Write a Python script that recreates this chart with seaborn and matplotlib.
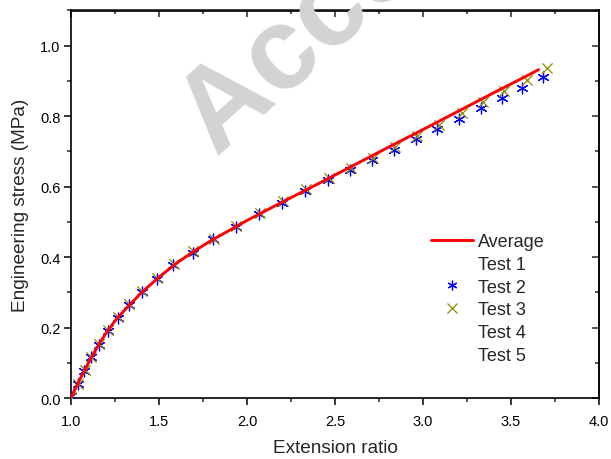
import matplotlib
matplotlib.use("Agg")
import matplotlib.pyplot as plt
from matplotlib.lines import Line2D
from matplotlib.ticker import MultipleLocator, FormatStrFormatter
import seaborn as sns
import pandas as pd

# ---- data ----
avg_x = [1.0, 1.04, 1.08, 1.12, 1.16, 1.2, 1.25, 1.3, 1.4, 1.5, 1.6, 1.7, 1.8, 1.9,
         2.0, 2.2, 2.4, 2.6, 2.8, 3.0, 3.2, 3.4, 3.6, 3.656]
avg_y = [0.0, 0.043, 0.081, 0.119, 0.153, 0.185, 0.219, 0.247, 0.299, 0.343, 0.383,
         0.417, 0.448, 0.476, 0.504, 0.556, 0.607, 0.659, 0.711, 0.762, 0.814, 0.866,
         0.917, 0.932]

test2_x = [1.0, 1.038, 1.076, 1.114, 1.159, 1.208, 1.265, 1.331, 1.405, 1.487, 1.581,
           1.692, 1.808, 1.937, 2.068, 2.199, 2.330, 2.458, 2.585, 2.712, 2.837, 2.960,
           3.081, 3.205, 3.328, 3.449, 3.564, 3.684]
test2_y = [0.005, 0.040, 0.077, 0.115, 0.151, 0.191, 0.227, 0.263, 0.301, 0.339, 0.377,
           0.413, 0.450, 0.485, 0.521, 0.554, 0.587, 0.618, 0.646, 0.677, 0.705, 0.736,
           0.764, 0.792, 0.822, 0.851, 0.880, 0.911]

test3_x = [1.0, 1.04, 1.078, 1.115, 1.16, 1.209, 1.266, 1.332, 1.406, 1.489, 1.583,
           1.694, 1.811, 1.94, 2.071, 2.203, 2.335, 2.464, 2.591, 2.718, 2.841, 2.968,
           3.093, 3.220, 3.343, 3.462, 3.589, 3.706]
test3_y = [0.004, 0.041, 0.079, 0.117, 0.153, 0.193, 0.229, 0.266, 0.303, 0.341, 0.379,
           0.416, 0.452, 0.488, 0.524, 0.558, 0.592, 0.624, 0.653, 0.682, 0.713, 0.745,
           0.776, 0.809, 0.839, 0.871, 0.904, 0.937]

legend_labels = ["Average", "Test 1", "Test 2", "Test 3", "Test 4", "Test 5"]
x_label = "Extension ratio"
y_label = "Engineering stress (MPa)"
watermark = "Accepted Manuscript"

# ---- style ----
sns.set_style("ticks")
plt.rcParams["font.family"] = ["Liberation Sans", "DejaVu Sans"]

RED = "#ff0000"
BLUE = "#0000ff"
OLIVE = "#8c8c00"
ASTER = (6, 2, 0)

fig = plt.figure(figsize=(6.11, 4.60), dpi=100)
ax = fig.add_axes([0.1162, 0.1326, 0.8642, 0.8424])

df_avg = pd.DataFrame({"x": avg_x, "y": avg_y})
df2 = pd.DataFrame({"x": test2_x, "y": test2_y})
df3 = pd.DataFrame({"x": test3_x, "y": test3_y})

sns.scatterplot(data=df2, x="x", y="y", ax=ax, marker=ASTER, s=60,
                color=BLUE, edgecolor=BLUE, linewidth=0.9, zorder=3, legend=False)
sns.scatterplot(data=df3, x="x", y="y", ax=ax, marker="x", s=55,
                color=OLIVE, linewidth=0.9, zorder=3, legend=False)
sns.lineplot(data=df_avg, x="x", y="y", ax=ax, color=RED, linewidth=2.1,
             zorder=4, legend=False, sort=False)

ax.set_xlim(1.0, 4.0)
ax.set_ylim(0.0, 1.1)
ax.xaxis.set_major_locator(MultipleLocator(0.5))
ax.xaxis.set_minor_locator(MultipleLocator(0.25))
ax.yaxis.set_major_locator(MultipleLocator(0.2))
ax.yaxis.set_minor_locator(MultipleLocator(0.1))
ax.xaxis.set_major_formatter(FormatStrFormatter("%.1f"))
ax.yaxis.set_major_formatter(FormatStrFormatter("%.1f"))

for sp in ax.spines.values():
    sp.set_visible(True)
    sp.set_linewidth(1.2)
    sp.set_color("black")

ax.tick_params(which="major", direction="out", length=5, width=1.1,
               labelsize=10.5, pad=2.5, colors="black")
ax.tick_params(which="minor", direction="out", length=3, width=1.1)
ax.tick_params(axis="x", which="major", pad=6.5)

sx = ax.secondary_xaxis("top")
sx.xaxis.set_major_locator(MultipleLocator(0.5))
sx.xaxis.set_minor_locator(MultipleLocator(0.25))
sx.tick_params(which="major", direction="in", length=5, width=1.1, labeltop=False)
sx.tick_params(which="minor", direction="in", length=3, width=1.1)
sx.spines["top"].set_linewidth(1.2)
sy = ax.secondary_yaxis("right")
sy.yaxis.set_major_locator(MultipleLocator(0.2))
sy.yaxis.set_minor_locator(MultipleLocator(0.1))
sy.tick_params(which="major", direction="in", length=5, width=1.1, labelright=False)
sy.tick_params(which="minor", direction="in", length=3, width=1.1)
sy.spines["right"].set_linewidth(1.2)

ax.set_xlabel(x_label, fontsize=13.7, labelpad=8)
ax.set_ylabel(y_label, fontsize=13.7, labelpad=8)

handles = [
    Line2D([], [], color=RED, linewidth=2.1),
    Line2D([], [], linestyle="none"),
    Line2D([], [], linestyle="none", marker=ASTER, color=BLUE, markersize=7,
           markeredgewidth=0.9),
    Line2D([], [], linestyle="none", marker="x", color=OLIVE, markersize=7,
           markeredgewidth=0.9),
    Line2D([], [], linestyle="none"),
    Line2D([], [], linestyle="none"),
]
leg = fig.legend(handles, legend_labels, loc="upper left",
                 bbox_to_anchor=(0.7054, 0.491), frameon=False, fontsize=13,
                 handlelength=2.3, handletextpad=0.3, labelspacing=0.32,
                 borderpad=0, borderaxespad=0)

# watermark
fig.text(0.355, 0.656, watermark, rotation=42, fontsize=84,
         color="#d3d3d3", fontweight="bold", ha="left", va="baseline",
         rotation_mode="anchor", zorder=10)

fig.savefig("out.png", dpi=100)
